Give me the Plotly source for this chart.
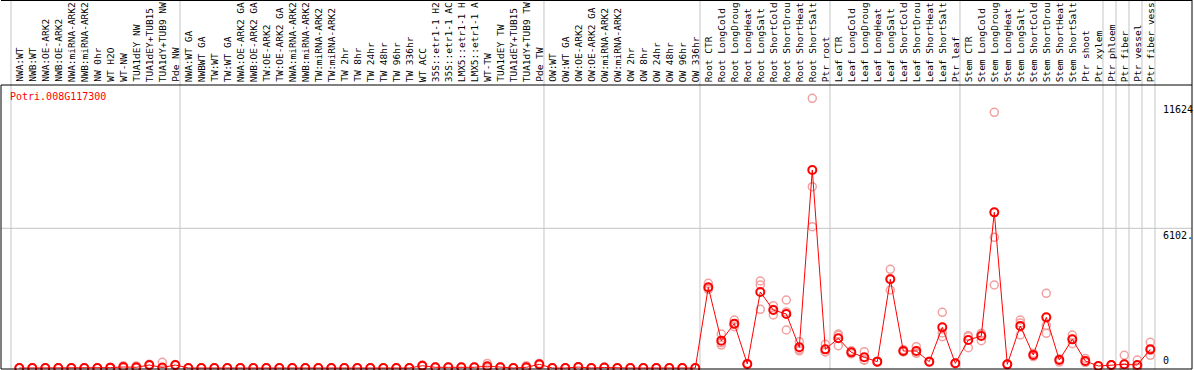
import plotly.graph_objects as go

# ---------------- data ----------------
gene = "Potri.008G117300"

samples = [
    "NWA:WT", "NWB:WT", "NWA:OE-ARK2", "NWB:OE-ARK2", "NWA:miRNA-ARK2", "NWB:miRNA-ARK2",
    "NW 0hr", "WT H2O", "WT-NW", "TUA1dEY NW", "TUA1dEY+TUB15", "TUA1dY+TUB9 NW", "Pde NW",
    "NWA:WT GA", "NWBWT GA", "TW:WT", "TW:WT GA", "NWA:OE-ARK2 GA", "NWB:OE-ARK2 GA",
    "TW:OE-ARK2", "TW:OE-ARK2 GA", "NWA:miRNA-ARK2", "NWB:miRNA-ARK2", "TW:miRNA-ARK2",
    "TW:miRNA-ARK2", "TW 2hr", "TW 8hr", "TW 24hr", "TW 48hr", "TW 96hr", "TW 336hr",
    "WT ACC", "35S::etr1-1 H2", "35S::etr1-1 AC", "LMX5::etr1-1 H", "LMX5::etr1-1 A",
    "WT-TW", "TUA1dEY TW", "TUA1dEY+TUB15", "TUA1dY+TUB9 TW", "Pde TW",
    "OW:WT", "OW:WT GA", "OW:OE-ARK2", "OW:OE-ARK2 GA", "OW:miRNA-ARK2", "OW:miRNA-ARK2",
    "OW 2hr", "OW 8hr", "OW 24hr", "OW 48hr", "OW 96hr", "OW 336hr",
    "Root CTR", "Root LongCold", "Root LongDroug", "Root LongHeat", "Root LongSalt",
    "Root ShortCold", "Root ShortDrou", "Root ShortHeat", "Root ShortSalt", "Ptr root",
    "Leaf CTR", "Leaf LongCold", "Leaf LongDroug", "Leaf LongHeat", "Leaf LongSalt",
    "Leaf ShortCold", "Leaf ShortDrou", "Leaf ShortHeat", "Leaf ShortSalt", "Ptr leaf",
    "Stem CTR", "Stem LongCold", "Stem LongDroug", "Stem LongHeat", "Stem LongSalt",
    "Stem ShortCold", "Stem ShortDrou", "Stem ShortHeat", "Stem ShortSalt", "Ptr shoot",
    "Ptr xylem", "Ptr phloem", "Ptr fiber", "Ptr vessel", "Ptr fiber vess",
]

# index of the first sample of each group (group separators)
group_starts = [0, 13, 41, 53, 63, 73, 84, 85, 86, 87, 88]

mean_values = [
    0, 0, 0, 0, 0, 0, 0, 15, 45, 30, 130, 20, 130,
    0, 0, 0, 0, 0, 0, 0, 0, 0, 0, 0, 0, 0, 0, 0, 0, 0, 0,
    100, 30, 30, 30, 30, 80, 30, 0, 30, 160,
    0, 0, 40, 0, 20, 0, 0, 0, 0, 0, 0, 0,
    3524, 1194, 1937, 175, 3320, 2533, 2359, 903, 8649, 815,
    1296, 684, 466, 277, 3873, 742, 742, 277, 1776, 204,
    1223, 1398, 6799, 160, 1835, 568, 2213, 349, 1252, 306,
    87, 131, 160, 131, 815,
]

rep1 = [
    0, 0, 0, 0, 0, 0, 0, 30, 100, 90, 160, 250, 150,
    0, 0, 0, 0, 0, 0, 0, 0, 0, 0, 0, 0, 0, 0, 0, 0, 0, 0,
    130, 40, 40, 40, 40, 200, 40, 0, 100, 200,
    0, 0, 60, 0, 30, 0, 0, 0, 0, 0, 0, 0,
    3698, 1485, 2097, 200, 3800, 2723, 2970, 1150, 11779, 1034,
    1485, 750, 713, 300, 4310, 800, 932, 290, 2431, 220,
    1369, 1514, 11168, 170, 2097, 640, 3262, 260, 1441, 420,
    90, 140, 553, 349, 1121,
]

rep2 = [
    0, 0, 0, 0, 0, 0, 0, 10, 20, 0, 120, 0, 120,
    0, 0, 0, 0, 0, 0, 0, 0, 0, 0, 0, 0, 0, 0, 0, 0, 0, 0,
    90, 30, 30, 30, 30, 20, 30, 0, 0, 150,
    0, 0, 40, 0, 20, 0, 0, 0, 0, 0, 0, 0,
    3437, 1100, 1805, 150, 3625, 2315, 1660, 815, 7920, 713,
    975, 620, 350, 260, 3407, 700, 650, 270, 1369, 200,
    888, 1194, 5708, 150, 1441, 500, 1514, 400, 1060, 250,
    85, 120, 0, 30, 553,
]

rep3 = [
    0, 0, 0, 0, 0, 0, 0, 5, 15, 0, 110, 0, 120,
    0, 0, 0, 0, 0, 0, 0, 0, 0, 0, 0, 0, 0, 0, 0, 0, 0, 0,
    80, 20, 20, 20, 20, 20, 20, 0, 0, 130,
    0, 0, 20, 0, 10, 0, 0, 0, 0, 0, 0, 0,
    3450, 1000, 1900, 175, 2563, 2560, 2447, 750, 6173, 700,
    1430, 680, 340, 270, 3900, 726, 645, 270, 1530, 190,
    1410, 1490, 3625, 160, 1967, 565, 1860, 387, 1255, 250,
    85, 130, 0, 15, 771,
]

y_tick_vals = [0, 6102, 11624]
y_tick_text = ["0", "6102.", "11624"]

# ---------------- figure ----------------
W, H = 1194, 370
ML, MR, MT, MB = 1, 2, 85, 1
plot_w = W - ML - MR
plot_h = H - MT - MB
step_px = 13.0
first_px = 19.3
x0 = -(first_px - ML) / step_px
x1 = x0 + plot_w / step_px
px_per_unit_y = 43.68
y0 = -1 * px_per_unit_y
y1 = (plot_h - 1) * px_per_unit_y

FONT = "DejaVu Sans Mono"
RED = "#ff0000"
PALE = "#f2a0a0"
GRID = "#c4c4c4"

x_idx = list(range(len(samples)))

fig = go.Figure()

rep_x, rep_y = [], []
for reps in (rep1, rep2, rep3):
    rep_x.extend(x_idx)
    rep_y.extend(reps)

fig.add_trace(go.Scatter(
    x=rep_x, y=rep_y, mode="markers", cliponaxis=False,
    marker=dict(symbol="circle-open", size=8, color=PALE, line=dict(width=1.5, color=PALE)),
    hoverinfo="skip", showlegend=False,
))
fig.add_trace(go.Scatter(
    x=x_idx, y=mean_values, mode="lines+markers", cliponaxis=False,
    line=dict(color=RED, width=1),
    marker=dict(symbol="circle-open", size=8, color=RED, line=dict(width=2, color=RED)),
    showlegend=False,
))

top_paper = (H - MB) / plot_h  # paper coordinate of the figure top
shapes = []
# vertical group separators (through label area)
for k in group_starts:
    gx = k - 0.64
    shapes.append(dict(type="line", xref="x", yref="paper", x0=gx, x1=gx, y0=0, y1=top_paper,
                       line=dict(color=GRID, width=1), layer="below"))
# horizontal grid at mid tick
shapes.append(dict(type="line", xref="paper", yref="y", x0=0, x1=1, y0=y_tick_vals[1], y1=y_tick_vals[1],
                   line=dict(color=GRID, width=1), layer="below"))
# plot frame
shapes.append(dict(type="rect", xref="paper", yref="paper", x0=0, x1=1, y0=0, y1=1,
                   line=dict(color="black", width=1), layer="above"))
# top border and right border through label area
shapes.append(dict(type="line", xref="paper", yref="paper", x0=0, x1=1, y0=top_paper - 0.5 / plot_h,
                   y1=top_paper - 0.5 / plot_h, line=dict(color="black", width=1)))
shapes.append(dict(type="line", xref="paper", yref="paper", x0=1, x1=1, y0=1, y1=top_paper,
                   line=dict(color="black", width=1)))

annotations = []
for i, name in enumerate(samples):
    annotations.append(dict(
        x=i, y=1, xref="x", yref="paper", text=name, textangle=-90,
        xanchor="center", yanchor="bottom", yshift=1, showarrow=False,
        font=dict(family=FONT, size=9.5, color="black"),
    ))

annotations.append(dict(
    x=(8 - ML) / plot_w, y=(H - MB - 89) / plot_h, xref="paper", yref="paper",
    text=gene, xanchor="left", yanchor="top", showarrow=False,
    font=dict(family=FONT, size=10, color=RED),
))

label_x = (1161 - ML) / plot_w
for v, t in zip(y_tick_vals, y_tick_text):
    annotations.append(dict(
        x=label_x, y=v, xref="paper", yref="y", text=t, xanchor="left",
        yanchor="bottom" if v == 0 else "top", showarrow=False,
        font=dict(family=FONT, size=10, color="black"),
    ))

fig.update_layout(
    width=W, height=H,
    margin=dict(l=ML, r=MR, t=MT, b=MB),
    paper_bgcolor="white", plot_bgcolor="white",
    xaxis=dict(range=[x0, x1], visible=False, showgrid=False, zeroline=False),
    yaxis=dict(range=[y0, y1], visible=False, showgrid=False, zeroline=False),
    shapes=shapes, annotations=annotations,
    showlegend=False,
)

fig.write_html(
    "out.html",
    config={"displayModeBar": False},
    post_script="document.body.style.margin='0';document.body.style.overflow='hidden';",
)
